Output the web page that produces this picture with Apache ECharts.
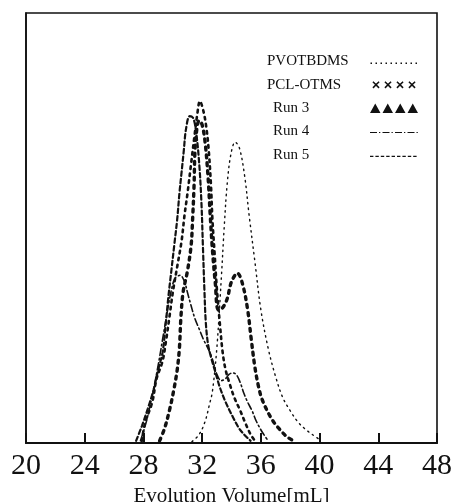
<!DOCTYPE html>
<html>
<head>
<meta charset="utf-8">
<script src="https://cdn.jsdelivr.net/npm/echarts@6/dist/echarts.min.js"></script>
<style>html,body{margin:0;padding:0;background:#fff;}#c{width:453px;height:502px;}</style>
</head>
<body>
<div id="c"></div>
<script>
// ---- data ----
const xTicks = [20, 24, 28, 32, 36, 40, 44, 48];
const seriesNames = ['PVOTBDMS', 'PCL-OTMS', 'Run 3', 'Run 4', 'Run 5'];

const pvotbdmsX = [31.3, 31.8, 32.2, 32.5, 32.7, 33.0, 33.3, 33.5, 33.7, 33.95, 34.25, 34.55, 34.9, 35.2, 35.6, 36.0, 36.5, 37.0, 37.5, 38.0, 38.5, 39.0, 39.5, 40.0];
const pvotbdmsY = [0.3, 2, 5, 9, 12, 22, 38, 50, 60, 67, 70, 68.5, 62, 53, 42, 31, 22, 15.5, 10.5, 7.5, 5, 3.3, 2, 0.8];

const pclX = [27.9, 28.1, 28.6, 28.9, 29.3, 29.55, 29.8, 30.0, 30.3, 30.6, 30.8, 31.0, 31.25, 31.5, 31.65, 31.85, 32.1, 32.3, 32.45, 32.6, 32.7, 32.85, 33.0, 33.2, 33.4, 33.6, 33.9, 34.2, 34.6, 34.9, 35.3, 35.6];
const pclY = [0.5, 4.5, 9.5, 15, 19, 24, 30, 35, 41, 47, 53, 58, 65, 72, 76, 79.5, 77, 73, 68, 60, 52, 44, 36, 28, 21, 17, 13.5, 10.5, 7.5, 5, 2, 0.5];

const run3X = [29.1, 29.45, 29.8, 30.05, 30.3, 30.45, 30.55, 30.7, 31.0, 31.25, 31.35, 31.45, 31.5, 31.6, 31.8, 32.0, 32.2, 32.4, 32.55, 32.7, 32.9, 33.1, 33.4, 33.7, 34.0, 34.4, 34.75, 35.1, 35.35, 35.6, 35.85, 36.1, 36.7, 37.2, 37.8, 38.4];
const run3Y = [0.5, 3.5, 8, 12, 17, 22, 29, 35, 40, 46, 52, 60, 67, 72, 75, 74, 70, 62, 53, 45, 37, 31, 31.5, 33.5, 37.5, 39.5, 37, 31, 24, 17.5, 13, 10, 5.8, 3.5, 1.4, 0.2];

const run4X = [27.8, 28.2, 28.6, 29.0, 29.35, 29.65, 29.9, 30.15, 30.5, 30.8, 31.0, 31.2, 31.5, 31.8, 32.1, 32.4, 32.7, 33.0, 33.3, 33.6, 33.85, 34.1, 34.35, 34.6, 34.85, 35.1, 35.4, 35.7, 36.1, 36.5];
const run4Y = [0.5, 5, 11, 18, 25, 31, 35.5, 38.3, 39, 37.5, 35, 32.5, 29, 26.5, 24, 22, 19.5, 16, 14.5, 15, 16, 16.3, 15.8, 14, 11.5, 9.5, 7.5, 5, 2.5, 0.5];

const run5X = [27.5, 27.9, 28.3, 28.7, 29.0, 29.3, 29.5, 29.7, 29.9, 30.1, 30.3, 30.45, 30.6, 30.75, 30.9, 31.15, 31.4, 31.6, 31.8, 31.95, 32.05, 32.15, 32.25, 32.4, 32.6, 32.9, 33.2, 33.6, 34.1, 34.5, 34.8, 35.3];
const run5Y = [0.5, 4, 8, 12.5, 17, 21, 27, 34, 40, 46, 52, 58, 63, 68, 73, 76, 75.5, 72, 65, 56, 46, 36, 28, 23, 20, 16.5, 13, 9.5, 6, 3.5, 2.2, 0.5];

// ---- helpers ----
function pairs(xs, ys) { return xs.map((x, i) => [x, ys[i]]); }
const W = 48, H = 12;
const anchor = 'M0,0L0,0Z M' + W + ',' + H + 'L' + W + ',' + H + 'Z ';
function rect(x, y, w, h) { return 'M' + x + ',' + y + 'h' + w + 'v' + h + 'h' + (-w) + 'z '; }
function dottedIcon() { let p = anchor; for (let x = 0.5; x < W - 1; x += 5) p += rect(x, 7, 1.5, 1.5); return 'path://' + p; }
function crossIcon() {
  let p = anchor; const a = 3.6, d = 1.1;
  [6, 18, 30, 42].forEach(cx => {
    const cy = 6;
    p += 'M' + (cx - a) + ',' + (cy - a + d) + 'L' + (cx - a + d) + ',' + (cy - a) + 'L' + (cx + a) + ',' + (cy + a - d) + 'L' + (cx + a - d) + ',' + (cy + a) + 'Z ';
    p += 'M' + (cx + a - d) + ',' + (cy - a) + 'L' + (cx + a) + ',' + (cy - a + d) + 'L' + (cx - a + d) + ',' + (cy + a) + 'L' + (cx - a) + ',' + (cy + a - d) + 'Z ';
  });
  return 'path://' + p;
}
function triIcon() {
  let p = anchor;
  [0, 12.5, 25, 37.5].forEach(x0 => { p += 'M' + x0 + ',11L' + (x0 + 5.25) + ',1.5L' + (x0 + 10.5) + ',11Z '; });
  return 'path://' + p;
}
function dashDotIcon() {
  let p = anchor;
  for (let x = 0; x < W; x += 12.5) { p += rect(x, 6.5, Math.min(7, W - x), 1.2); if (x + 9 < W) p += rect(x + 9, 6.5, 1.3, 1.2); }
  return 'path://' + p;
}
function dashIcon() { let p = anchor; for (let x = 0; x < W; x += 5.4) p += rect(x, 7, Math.min(3.4, W - x), 1.3); return 'path://' + p; }

const serif = "'Liberation Serif', 'DejaVu Serif', serif";
const ink = '#111';

const lineStyles = [
  { width: 1.4, type: [1.4, 4.2] },
  { width: 2.6, type: [2.6, 4.5] },
  { width: 3.4, type: [3, 5] },
  { width: 1.6, type: [7, 3, 1.6, 3] },
  { width: 2.2, type: [4.5, 3] }
];
const allData = [pairs(pvotbdmsX, pvotbdmsY), pairs(pclX, pclY), pairs(run3X, run3Y), pairs(run4X, run4Y), pairs(run5X, run5Y)];
const icons = [dottedIcon(), crossIcon(), triIcon(), dashDotIcon(), dashIcon()];

const chart = echarts.init(document.getElementById('c'), null, { renderer: 'canvas' });
chart.setOption({
  animation: false,
  backgroundColor: '#fff',
  grid: { left: 26, right: 16, top: 13, bottom: 59, outerBoundsMode: 'none', containLabel: false,
          show: true, borderColor: ink, borderWidth: 1.6, backgroundColor: 'transparent' },
  legend: {
    orient: 'vertical', left: 262, top: 49, align: 'right',
    itemWidth: W, itemHeight: H, itemGap: 8.3,
    formatter: name => (name.indexOf('Run') === 0 ? '{r|' : '{t|') + name + '}',
    textStyle: { fontFamily: serif, fontSize: 15, color: ink,
                 rich: {
                   t: { fontFamily: serif, fontSize: 15, color: ink, width: 98, align: 'left' },
                   r: { fontFamily: serif, fontSize: 15, color: ink, width: 92, align: 'left', padding: [0, 0, 0, 6] }
                 } },
    data: seriesNames.map((n, i) => ({ name: n, icon: icons[i], itemStyle: { color: ink, borderWidth: 0 } }))
  },
  xAxis: {
    type: 'value', min: xTicks[0], max: xTicks[xTicks.length - 1], interval: 4,
    axisLine: { show: true, lineStyle: { color: ink, width: 2.2 } },
    axisTick: { show: true, inside: true, length: 10, lineStyle: { color: ink, width: 2 } },
    splitLine: { show: false },
    axisLabel: { fontFamily: serif, fontSize: 30, color: ink, margin: 8 },
    name: 'Evolution Volume[mL]', nameLocation: 'middle', nameGap: 43,
    nameTextStyle: { fontFamily: serif, fontSize: 21, color: ink }
  },
  yAxis: {
    type: 'value', min: 0, max: 100,
    axisLine: { show: true, lineStyle: { color: ink, width: 1.6 } },
    axisTick: { show: false }, axisLabel: { show: false }, splitLine: { show: false }
  },
  series: seriesNames.map((n, i) => ({
    name: n, type: 'line', data: allData[i], smooth: 0.35, showSymbol: false,
    itemStyle: { color: ink },
    lineStyle: Object.assign({ color: ink, cap: 'round' }, lineStyles[i])
  }))
});
</script>
</body>
</html>
